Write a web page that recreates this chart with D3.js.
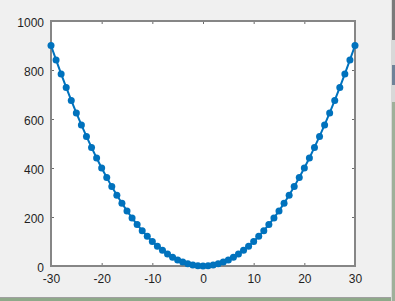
<!DOCTYPE html>
<html>
<head>
<meta charset="utf-8">
<script src="https://cdn.jsdelivr.net/npm/d3@7"></script>
<style>
  body { margin: 0; background: #f0f0f0; }
  svg { display: block; }
</style>
</head>
<body>
<script>
// x values and y values
let xs = [-30,-29,-28,-27,-26,-25,-24,-23,-22,-21,-20,-19,-18,-17,-16,-15,-14,-13,-12,-11,-10,-9,-8,-7,-6,-5,-4,-3,-2,-1,0,
          1,2,3,4,5,6,7,8,9,10,11,12,13,14,15,16,17,18,19,20,21,22,23,24,25,26,27,28,29,30]
let ys = [900,841,784,729,676,625,576,529,484,441,400,361,324,289,256,225,196,169,144,121,100,81,64,49,36,25,16,9,4,1,0,
          1,4,9,16,25,36,49,64,81,100,121,144,169,196,225,256,289,324,361,400,441,484,529,576,625,676,729,784,841,900]
let xTicks = [-30,-20,-10,0,10,20,30]
let yTicks = [0,200,400,600,800,1000]

function main(){
    const width = 395, height = 301

    let svg = d3.select("body")
        .append('svg')
        .attr('width', width)
        .attr('height', height)

    // window background + edges of the screenshot
    svg.append('rect').attr('x', 0).attr('y', 0).attr('width', width).attr('height', height).attr('fill', '#f0f0f0')
    svg.append('rect').attr('x', 0).attr('y', 297).attr('width', 392).attr('height', 1).attr('fill', '#a0a0a0')
    svg.append('rect').attr('x', 0).attr('y', 298).attr('width', width).attr('height', 3).attr('fill', '#8fa98a')
    svg.append('rect').attr('x', 391).attr('y', 0).attr('width', 4).attr('height', 301).attr('fill', '#d8d8d8')
    svg.append('rect').attr('x', 392).attr('y', 0).attr('width', 3).attr('height', 40).attr('fill', '#7a7a7a')
    svg.append('rect').attr('x', 392).attr('y', 65).attr('width', 3).attr('height', 20).attr('fill', '#6f8298')
    svg.append('rect').attr('x', 392).attr('y', 102).attr('width', 3).attr('height', 199).attr('fill', '#9fb09a')

    let xScale = d3.scaleLinear().domain([-30, 30]).range([51, 355])
    let yScale = d3.scaleLinear().domain([0, 1000]).range([266, 21])

    // plot area
    svg.append('rect')
        .attr('x', 51).attr('y', 21)
        .attr('width', 304).attr('height', 245)
        .attr('fill', 'white')

    const axisColor = '#868686'
    const textColor = '#1f1f1f'
    const fmt = d => String(d)

    function styleAxis(g, hideText){
        g.select('.domain').remove()
        g.selectAll('.tick line').attr('stroke', '#6a6a6a')
        g.selectAll('.tick text')
            .attr('fill', textColor)
            .attr('font-family', 'Arial, Liberation Sans, sans-serif')
            .attr('font-size', '12px')
        if (hideText) g.selectAll('.tick text').remove()
    }

    svg.append('g')
        .attr('transform', 'translate(0,266)')
        .call(d3.axisBottom(xScale).tickValues(xTicks).tickFormat(fmt).tickSize(-3).tickPadding(8))
        .call(g => styleAxis(g, false))
    svg.append('g')
        .attr('transform', 'translate(0,21)')
        .call(d3.axisTop(xScale).tickValues(xTicks).tickSize(-3))
        .call(g => styleAxis(g, true))
    svg.append('g')
        .attr('transform', 'translate(51,0)')
        .call(d3.axisLeft(yScale).tickValues(yTicks).tickFormat(fmt).tickSize(-3).tickPadding(7))
        .call(g => styleAxis(g, false))
        .selectAll('.tick text').attr('dy', '0.45em')
    svg.append('g')
        .attr('transform', 'translate(355,0)')
        .call(d3.axisRight(yScale).tickValues(yTicks).tickSize(-3))
        .call(g => styleAxis(g, true))

    // box
    svg.append('rect')
        .attr('x', 51).attr('y', 21)
        .attr('width', 304).attr('height', 245)
        .attr('fill', 'none')
        .attr('stroke', axisColor)
        .attr('stroke-width', 2)

    let line = d3.line()
        .x((d, i) => xScale(xs[i]))
        .y(d => yScale(d))

    svg.append('path')
        .datum(ys)
        .attr('d', line)
        .attr('fill', 'none')
        .attr('stroke', '#0072bd')
        .attr('stroke-width', 2)

    svg.selectAll('circle.pt')
        .data(ys)
        .enter()
        .append('circle')
        .attr('class', 'pt')
        .attr('cx', (d, i) => xScale(xs[i]))
        .attr('cy', d => yScale(d))
        .attr('r', 3.5)
        .attr('fill', '#0072bd')
}

main()
</script>
</body>
</html>
